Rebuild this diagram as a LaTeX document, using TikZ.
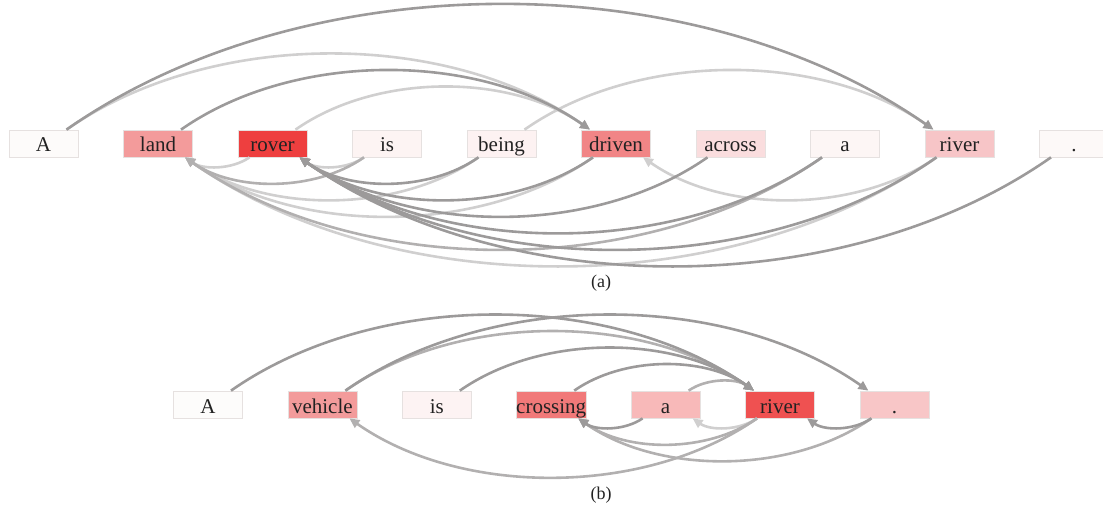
\documentclass[tikz,border=0pt]{standalone}
\usepackage{fontspec}
\setmainfont{Liberation Serif}
\usetikzlibrary{arrows.meta,calc}

% link shades
\definecolor{lkdark}{HTML}{9C9A9A}
\definecolor{lkmid}{HTML}{B2B0B0}
\definecolor{lklight}{HTML}{D0CFCF}
\definecolor{boxline}{HTML}{E6E1E0}
\definecolor{txt}{HTML}{222222}

% token fills, sentence (a)
\definecolor{aA}{HTML}{FDFBFA}
\definecolor{aland}{HTML}{F39B9B}
\definecolor{arover}{HTML}{EE3F3F}
\definecolor{ais}{HTML}{FDF4F3}
\definecolor{abeing}{HTML}{FDF2F2}
\definecolor{adriven}{HTML}{F18586}
\definecolor{aacross}{HTML}{FADDDE}
\definecolor{aa}{HTML}{FDF6F5}
\definecolor{ariver}{HTML}{F7C5C7}
\definecolor{adot}{HTML}{FDF9F8}
% token fills, sentence (b)
\definecolor{bA}{HTML}{FDFCFB}
\definecolor{bvehicle}{HTML}{F39B9B}
\definecolor{bis}{HTML}{FDF3F3}
\definecolor{bcrossing}{HTML}{F17979}
\definecolor{ba}{HTML}{F8B9B9}
\definecolor{briver}{HTML}{EF5151}
\definecolor{bdot}{HTML}{F8C6C7}

\tikzset{
  tok/.style={draw=boxline, line width=0.7pt, minimum width=69pt,
    text height=22pt, text depth=5pt, inner sep=0pt,
    font=\fontsize{21}{21}\selectfont, text=txt},
  link/.style={line width=2.6pt, -{Triangle[length=10pt,width=9pt]}},
  arcup/.style={out=35, in=145, looseness=0.86},
  arcdown/.style={out=215, in=325, looseness=0.86},
  caption/.style={font=\fontsize{18}{18}\selectfont, text=txt},
}

% arc over the tokens, left to right
\newcommand\linkover[3]{\draw[link, arcup, draw=#3] ($(#1.north)+(23,0)$) to ($(#2.north)+(-26,0)$);}
% arc under the tokens, right to left
\newcommand\linkunder[3]{\draw[link, arcdown, draw=#3] ($(#1.south)+(-23,0)$) to ($(#2.south)+(27,0)$);}

\begin{document}
\begin{tikzpicture}[x=1pt, y=1pt]
\useasboundingbox (0,0) rectangle (1103,512);

% ---- sentence (a)
\foreach \name/\word/\col [count=\i from 0] in
  {a0/A/aA, a1/land/aland, a2/rover/arover, a3/is/ais, a4/being/abeing,
   a5/driven/adriven, a6/across/aacross, a7/a/aa, a8/river/ariver, a9/./adot}
  \node[tok, fill=\col] (\name) at ({43.5+114.5*\i}, 368.5) {\word};

% ---- sentence (b)
\foreach \name/\word/\col [count=\i from 0] in
  {b0/A/bA, b1/vehicle/bvehicle, b2/is/bis, b3/crossing/bcrossing,
   b4/a/ba, b5/river/briver, b6/./bdot}
  \node[tok, fill=\col] (\name) at ({208+114.4*\i}, 107.5) {\word};

\node[caption] (capa) at (601, 229) {(a)};
\node[caption] (capb) at (601, 17) {(b)};

% ---- links of sentence (a)
\linkover{a0}{a5}{lklight}
\linkover{a2}{a5}{lklight}
\linkover{a4}{a8}{lklight}
\linkunder{a2}{a1}{lklight}
\linkunder{a3}{a2}{lklight}
\linkunder{a4}{a1}{lklight}
\linkunder{a5}{a1}{lklight}
\linkunder{a8}{a1}{lklight}
\linkunder{a8}{a5}{lklight}
\linkunder{a3}{a1}{lkmid}
\linkunder{a7}{a1}{lkmid}
\linkover{a0}{a8}{lkdark}
\linkover{a1}{a5}{lkdark}
\linkunder{a4}{a2}{lkdark}
\linkunder{a5}{a2}{lkdark}
\linkunder{a6}{a2}{lkdark}
\linkunder{a7}{a2}{lkdark}
\linkunder{a8}{a2}{lkdark}
\linkunder{a9}{a2}{lkdark}

% ---- links of sentence (b)
\linkunder{b5}{b4}{lklight}
\linkover{b1}{b5}{lkmid}
\linkunder{b5}{b3}{lkmid}
\linkunder{b5}{b1}{lkmid}
\linkunder{b6}{b3}{lkmid}
\linkover{b4}{b5}{lkmid}
\linkunder{b4}{b3}{lkdark}
\linkunder{b6}{b5}{lkdark}
\linkover{b0}{b5}{lkdark}
\linkover{b1}{b6}{lkdark}
\linkover{b2}{b5}{lkdark}
\linkover{b3}{b5}{lkdark}
\end{tikzpicture}
\end{document}
